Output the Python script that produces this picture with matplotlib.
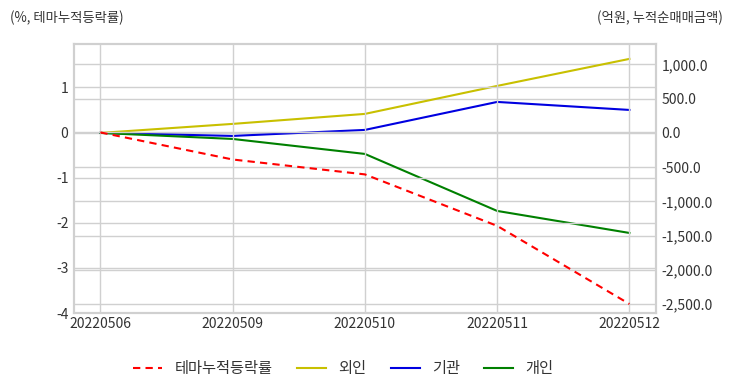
import numpy as np
import matplotlib
matplotlib.use("Agg")
import matplotlib.pyplot as plt
from matplotlib.ticker import FuncFormatter

plt.rcParams['font.family'] = ['Noto Sans CJK KR', 'DejaVu Sans']
plt.rcParams['axes.unicode_minus'] = False

dates = ['20220506', '20220509', '20220510', '20220511', '20220512']
theme_rate = [0.0, -0.60, -0.93, -2.07, -3.80]   # %, left axis
foreign = [0.0, 132, 278, 687, 1082]            # 억원, right axis
institution = [0.0, -44, 44, 453, 336]
individual = [0.0, -88, -307, -1140, -1462]

grid_c = '#d0d0d0'
text_c = '#333333'

fig = plt.figure(figsize=(7.32, 3.92), dpi=100)
ax = fig.add_axes([0.101, 0.2015, 0.795, 0.6865])
ax2 = ax.twinx()

x = np.arange(len(dates))
l1, = ax.plot(x, theme_rate, color='#ff0000', ls=(0, (3.5, 2.5)), lw=1.5, label='테마누적등락률')
l2, = ax2.plot(x, foreign, color='#c8c000', lw=1.5, label='외인')
l3, = ax2.plot(x, institution, color='#0000e0', lw=1.5, label='기관')
l4, = ax2.plot(x, individual, color='#008000', lw=1.5, label='개인')

ax.set_xlim(-0.2, 4.2)
ax.set_ylim(-4, 1.96)
ax2.set_ylim(-2632, 1301)
ax.set_xticks(x)
ax.set_xticklabels(dates)
ax.set_yticks([1, 0, -1, -2, -3, -4])
ax2.set_yticks([1000, 500, 0, -500, -1000, -1500, -2000, -2500])
ax2.yaxis.set_major_formatter(FuncFormatter(lambda v, p: f'{v:,.1f}'))

ax.grid(True, color=grid_c, lw=1)
ax2.grid(True, axis='y', color=grid_c, lw=1)
ax.set_axisbelow(True)
ax2.set_axisbelow(True)
ax.set_zorder(ax2.get_zorder() + 1)
ax.patch.set_visible(False)

for a in (ax, ax2):
    for s in a.spines.values():
        s.set_color(grid_c)
        s.set_linewidth(1.5)
    a.tick_params(length=0, colors=text_c, labelsize=10, pad=4)
ax.tick_params(axis='x', pad=3)

fig.text(0.013, 0.955, '(%, 테마누적등락률)', fontsize=9.6, color=text_c, ha='left', va='center')
fig.text(0.987, 0.955, '(억원, 누적순매매금액)', fontsize=9.6, color=text_c, ha='right', va='center')

fig.legend(handles=[l1, l2, l3, l4], loc='center', bbox_to_anchor=(0.469, 0.059), ncol=4,
           frameon=False, fontsize=11, handlelength=1.9, handletextpad=0.8,
           columnspacing=1.6, labelcolor=text_c)

fig.savefig('out.png', dpi=100)
